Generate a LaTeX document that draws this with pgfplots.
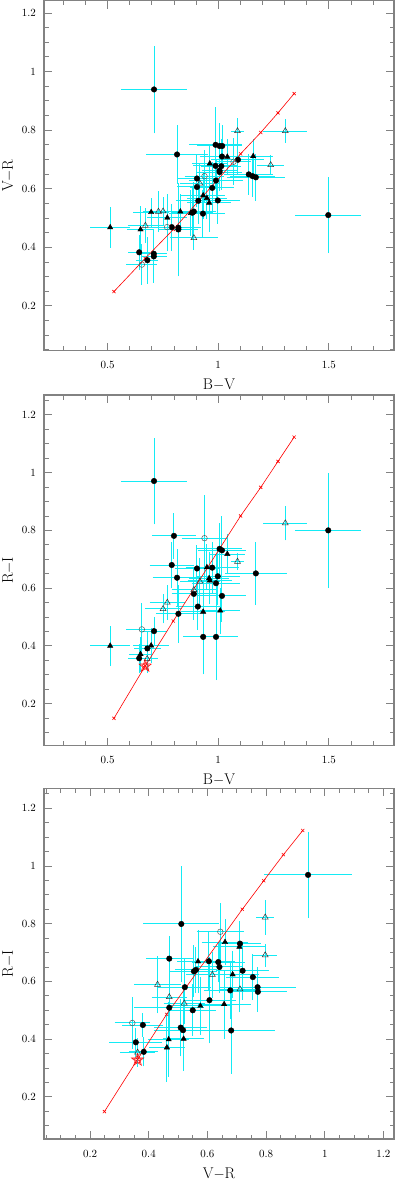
\documentclass[border=0pt]{standalone}
\usepackage{pgfplots}
\pgfplotsset{compat=1.18}
\usepackage{pgfplotstable}
\usetikzlibrary{plotmarks}

\definecolor{errc}{RGB}{20,235,245}
\definecolor{boxc}{RGB}{130,130,130}

% open five-pointed star, drawn twice (outer and inner outline)
\pgfdeclareplotmark{ostar}{%
  \foreach \s in {1,0.62}{%
    \pgfpathmoveto{\pgfpointpolar{90}{\s\pgfplotmarksize}}%
    \foreach \k in {0,...,4}{%
      \pgfpathlineto{\pgfpointpolar{126+72*\k}{0.42*\s\pgfplotmarksize}}%
      \pgfpathlineto{\pgfpointpolar{162+72*\k}{\s\pgfplotmarksize}}%
    }%
    \pgfpathclose
    \pgfusepathqstroke
  }%
}

% colour locus: B-V, V-R, R-I
\pgfplotstableread{
bv vr ri
0.529 0.249 0.149
0.670 0.362 0.330
0.797 0.461 0.486
1.101 0.719 0.850
1.192 0.792 0.949
1.270 0.859 1.039
1.343 0.925 1.123
}\locus

% ---- panel 1: B-V vs V-R
\pgfplotstableread{
x y ex ey
0.710 0.939 0.15 0.15
0.814 0.717 0.14 0.10
1.497 0.510 0.15 0.13
0.988 0.750 0.12 0.13
1.006 0.746 0.10 0.08
1.018 0.746 0.08 0.07
1.017 0.710 0.10 0.06
1.089 0.699 0.12 0.05
0.988 0.678 0.10 0.08
1.014 0.677 0.09 0.08
1.006 0.662 0.08 0.07
1.006 0.657 0.10 0.06
0.904 0.635 0.09 0.08
0.990 0.628 0.12 0.07
0.904 0.606 0.09 0.07
0.973 0.603 0.10 0.09
0.910 0.559 0.10 0.08
0.998 0.560 0.10 0.08
1.138 0.649 0.11 0.07
1.155 0.643 0.10 0.07
1.170 0.639 0.13 0.08
0.931 0.515 0.10 0.08
0.890 0.522 0.10 0.10
0.883 0.518 0.09 0.09
0.790 0.469 0.10 0.08
0.820 0.467 0.10 0.09
0.820 0.461 0.09 0.16
0.643 0.383 0.05 0.06
0.709 0.378 0.06 0.06
0.709 0.369 0.06 0.09
0.680 0.356 0.05 0.08
}\pAfc
\pgfplotstableread{
x y ex ey
0.512 0.468 0.09 0.07
0.649 0.461 0.06 0.08
0.697 0.520 0.08 0.05
0.770 0.501 0.09 0.08
0.829 0.522 0.08 0.06
0.877 0.517 0.10 0.08
0.932 0.577 0.10 0.08
0.949 0.568 0.09 0.07
0.959 0.552 0.10 0.10
0.962 0.686 0.08 0.06
1.041 0.709 0.10 0.06
1.158 0.711 0.09 0.06
}\pAft
\pgfplotstableread{
x y ex ey
1.087 0.797 0.03 0.045
1.303 0.797 0.10 0.04
1.237 0.681 0.06 0.035
0.917 0.618 0.09 0.07
0.671 0.474 0.08 0.06
0.730 0.522 0.07 0.07
0.751 0.523 0.08 0.05
0.890 0.432 0.11 0.04
}\pAot
\pgfplotstableread{
x y ex ey
0.938 0.643 0.09 0.09
1.069 0.692 0.08 0.08
0.769 0.469 0.08 0.08
0.655 0.341 0.07 0.07
}\pAoc

% ---- panel 2: B-V vs R-I
\pgfplotstableread{
x y ex ey
0.710 0.971 0.15 0.15
1.497 0.800 0.15 0.20
0.800 0.781 0.10 0.08
0.790 0.680 0.10 0.08
0.814 0.636 0.11 0.10
0.904 0.668 0.10 0.08
0.973 0.671 0.12 0.09
0.998 0.641 0.10 0.10
0.990 0.617 0.11 0.10
1.006 0.736 0.10 0.09
1.017 0.731 0.11 0.12
1.170 0.651 0.14 0.11
0.890 0.580 0.10 0.09
0.908 0.536 0.10 0.08
1.017 0.573 0.11 0.09
0.820 0.511 0.10 0.10
0.710 0.451 0.06 0.05
0.680 0.391 0.06 0.06
0.643 0.357 0.05 0.05
0.932 0.431 0.09 0.13
0.990 0.431 0.10 0.15
}\pBfc
\pgfplotstableread{
x y ex ey
0.512 0.400 0.09 0.07
0.649 0.371 0.05 0.06
0.697 0.401 0.08 0.06
0.932 0.518 0.10 0.11
1.009 0.522 0.09 0.08
0.949 0.672 0.09 0.08
0.959 0.634 0.09 0.09
0.962 0.626 0.10 0.08
1.041 0.718 0.08 0.07
}\pBft
\pgfplotstableread{
x y ex ey
1.303 0.825 0.10 0.06
1.087 0.692 0.03 0.03
0.917 0.623 0.09 0.08
0.890 0.594 0.10 0.08
0.770 0.550 0.08 0.06
0.751 0.528 0.08 0.05
0.679 0.355 0.05 0.05
}\pBot
\pgfplotstableread{
x y ex ey
0.938 0.773 0.10 0.15
0.655 0.457 0.07 0.09
}\pBoc

% ---- panel 3: V-R vs R-I
\pgfplotstableread{
x y ex ey
0.943 0.969 0.15 0.15
0.511 0.799 0.13 0.20
0.470 0.679 0.08 0.08
0.605 0.670 0.09 0.10
0.637 0.667 0.09 0.07
0.641 0.650 0.08 0.09
0.711 0.731 0.07 0.08
0.720 0.637 0.09 0.10
0.755 0.615 0.09 0.08
0.771 0.580 0.13 0.07
0.772 0.564 0.10 0.07
0.678 0.569 0.09 0.10
0.561 0.640 0.07 0.08
0.554 0.635 0.08 0.09
0.523 0.580 0.09 0.10
0.607 0.535 0.09 0.15
0.470 0.509 0.12 0.10
0.550 0.500 0.08 0.09
0.509 0.440 0.09 0.10
0.517 0.431 0.10 0.14
0.681 0.430 0.15 0.15
0.380 0.449 0.07 0.04
0.356 0.389 0.09 0.05
0.383 0.356 0.05 0.05
}\pCfc
\pgfplotstableread{
x y ex ey
0.568 0.669 0.07 0.11
0.660 0.736 0.08 0.08
0.709 0.720 0.09 0.07
0.686 0.624 0.09 0.08
0.657 0.521 0.09 0.12
0.576 0.515 0.10 0.10
0.468 0.399 0.07 0.13
0.519 0.401 0.07 0.10
0.462 0.371 0.06 0.12
}\pCft
\pgfplotstableread{
x y ex ey
0.797 0.822 0.03 0.06
0.797 0.691 0.04 0.04
0.617 0.623 0.09 0.08
0.711 0.573 0.07 0.08
0.430 0.589 0.08 0.10
0.470 0.546 0.06 0.08
0.521 0.524 0.07 0.07
0.362 0.354 0.06 0.05
}\pCot
\pgfplotstableread{
x y ex ey
0.644 0.772 0.08 0.10
0.344 0.456 0.06 0.09
}\pCoc

\pgfplotsset{
  panel/.style={
    scale only axis, width=350pt, anchor=north west,
    axis line style={boxc, line width=1.1pt},
    tick style={boxc, line width=0.9pt},
    major tick length=8pt, minor tick length=4.5pt,
    tick align=inside,
    ticklabel style={font=\fontsize{11}{13}\selectfont, inner sep=0pt},
    xticklabel style={anchor=north, yshift=-11pt},
    yticklabel style={anchor=east, xshift=-8pt},
    label style={font=\fontsize{15.5}{18}\selectfont, inner sep=0pt},
    xlabel style={at={(axis description cs:0.5,-0.0807)}, anchor=north},
    ylabel style={at={(axis description cs:-0.0850,0.5)}, anchor=south},
    ytick={0.2,0.4,0.6,0.8,1,1.2},
    minor ytick={0.05,0.1,0.15,0.25,0.3,0.35,0.45,0.5,0.55,0.65,0.7,0.75,0.85,0.9,0.95,1.05,1.1,1.15,1.25},
    clip=true,
  },
  bvx/.style={xmin=0.213, xmax=1.794, xtick={0.5,1,1.5},
    minor xtick={0.3,0.4,0.6,0.7,0.8,0.9,1.1,1.2,1.3,1.4,1.6,1.7}},
  % error bars drawn as quiver segments
  errx/.style={errc, line width=1pt, forget plot, quiver={u=\thisrow{ex}*2, v=0}},
  erry/.style={errc, line width=1pt, forget plot, quiver={u=0, v=\thisrow{ey}*2}},
  fc/.style={only marks, mark=*, mark size=2.8pt, mark options={fill=black, draw=black}},
  ft/.style={only marks, mark=triangle*, mark size=3.1pt, mark options={fill=black, draw=black}},
  ot/.style={only marks, mark=triangle, mark size=3.4pt, mark options={draw=black!80, fill=none, line width=0.5pt}},
  oc/.style={only marks, mark=o, mark size=2.8pt, mark options={draw=black!65, fill=none, line width=0.5pt}},
  loc/.style={red, line width=0.6pt, mark=x, mark size=2.2pt},
  sun/.style={only marks, mark=ostar, mark size=6.5pt, mark options={draw=red, line width=0.5pt}},
}

\newcommand\errs[1]{%
  \addplot[errx] table[x expr=\thisrow{x}-\thisrow{ex}, y=y]{#1};
  \addplot[erry] table[x=x, y expr=\thisrow{y}-\thisrow{ey}]{#1};
}

\begin{document}
\begin{tikzpicture}
% panel 1
\begin{axis}[panel, bvx, at={(44pt,-0.7pt)}, height=350pt,
  ymin=0.047, ymax=1.242, xlabel={B$-$V}, ylabel={V$-$R}]
\errs{\pAfc}
\errs{\pAft}
\errs{\pAot}
\errs{\pAoc}
\addplot[loc] table[x=bv, y=vr]{\locus};
\addplot[fc] table[x=x, y=y]{\pAfc};
\addplot[ft] table[x=x, y=y]{\pAft};
\addplot[ot] table[x=x, y=y]{\pAot};
\addplot[oc] table[x=x, y=y]{\pAoc};
\end{axis}
% panel 2
\begin{axis}[panel, bvx, at={(44pt,-395pt)}, height=350.7pt,
  ymin=0.054, ymax=1.269, xlabel={B$-$V}, ylabel={R$-$I}]
\errs{\pBfc}
\errs{\pBft}
\errs{\pBot}
\errs{\pBoc}
\addplot[loc] table[x=bv, y=ri]{\locus};
\addplot[fc] table[x=x, y=y]{\pBfc};
\addplot[ft] table[x=x, y=y]{\pBft};
\addplot[ot] table[x=x, y=y]{\pBot};
\addplot[oc] table[x=x, y=y]{\pBoc};
\addplot[sun] coordinates {(0.670,0.330)};
\end{axis}
% panel 3
\begin{axis}[panel, at={(44pt,-788.3pt)}, height=350.7pt,
  xmin=0.043, xmax=1.236, ymin=0.054, ymax=1.269,
  xtick={0.2,0.4,0.6,0.8,1,1.2},
  minor xtick={0.05,0.1,0.15,0.25,0.3,0.35,0.45,0.5,0.55,0.65,0.7,0.75,0.85,0.9,0.95,1.05,1.1,1.15},
  xlabel={V$-$R}, ylabel={R$-$I}]
\errs{\pCfc}
\errs{\pCft}
\errs{\pCot}
\errs{\pCoc}
\addplot[loc] table[x=vr, y=ri]{\locus};
\addplot[fc] table[x=x, y=y]{\pCfc};
\addplot[ft] table[x=x, y=y]{\pCft};
\addplot[ot] table[x=x, y=y]{\pCot};
\addplot[oc] table[x=x, y=y]{\pCoc};
\addplot[sun] coordinates {(0.362,0.328)};
\end{axis}
\pgfresetboundingbox
\path (0pt,0pt) rectangle (396pt,-1179pt);
\end{tikzpicture}
\end{document}
